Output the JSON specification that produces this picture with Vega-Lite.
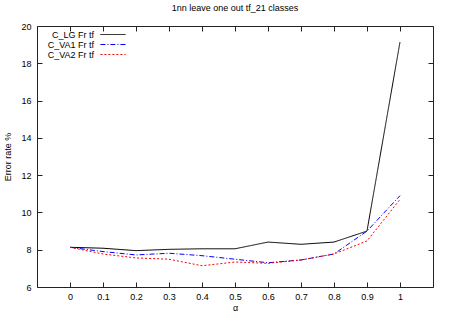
{
  "$schema": "https://vega.github.io/schema/vega-lite/v6.json",
  "width": 396,
  "height": 261,
  "autosize": "none",
  "padding": {"left": 37, "top": 26, "right": 17, "bottom": 28},
  "background": "white",
  "config": {
    "font": "Liberation Sans",
    "view": {"stroke": "#222", "strokeWidth": 1},
    "axis": {"grid": false, "domain": false, "tickColor": "#222", "labelColor": "#000", "labelFontSize": 9, "titleFontSize": 9, "titleFontWeight": "normal", "titleColor": "#000", "labelFont": "Liberation Sans", "titleFont": "Liberation Sans"}
  },
  "title": {"text": "1nn leave one out tf_21 classes", "fontSize": 9, "fontWeight": "normal", "font": "Liberation Sans", "offset": 9, "color": "#000"},
  "data": {"values": [
    {"alpha": 0.0, "series": "C_LG Fr tf", "rate": 8.13},
    {"alpha": 0.1, "series": "C_LG Fr tf", "rate": 8.08},
    {"alpha": 0.2, "series": "C_LG Fr tf", "rate": 7.95},
    {"alpha": 0.3, "series": "C_LG Fr tf", "rate": 8.02},
    {"alpha": 0.4, "series": "C_LG Fr tf", "rate": 8.05},
    {"alpha": 0.5, "series": "C_LG Fr tf", "rate": 8.05},
    {"alpha": 0.6, "series": "C_LG Fr tf", "rate": 8.41},
    {"alpha": 0.7, "series": "C_LG Fr tf", "rate": 8.29},
    {"alpha": 0.8, "series": "C_LG Fr tf", "rate": 8.41},
    {"alpha": 0.9, "series": "C_LG Fr tf", "rate": 9.0},
    {"alpha": 1.0, "series": "C_LG Fr tf", "rate": 19.14},
    {"alpha": 0.0, "series": "C_VA1 Fr tf", "rate": 8.13},
    {"alpha": 0.1, "series": "C_VA1 Fr tf", "rate": 7.9},
    {"alpha": 0.2, "series": "C_VA1 Fr tf", "rate": 7.72},
    {"alpha": 0.3, "series": "C_VA1 Fr tf", "rate": 7.81},
    {"alpha": 0.4, "series": "C_VA1 Fr tf", "rate": 7.68},
    {"alpha": 0.5, "series": "C_VA1 Fr tf", "rate": 7.49},
    {"alpha": 0.6, "series": "C_VA1 Fr tf", "rate": 7.3},
    {"alpha": 0.7, "series": "C_VA1 Fr tf", "rate": 7.45},
    {"alpha": 0.8, "series": "C_VA1 Fr tf", "rate": 7.77},
    {"alpha": 0.9, "series": "C_VA1 Fr tf", "rate": 9.0},
    {"alpha": 1.0, "series": "C_VA1 Fr tf", "rate": 10.9},
    {"alpha": 0.0, "series": "C_VA2 Fr tf", "rate": 8.13},
    {"alpha": 0.1, "series": "C_VA2 Fr tf", "rate": 7.77},
    {"alpha": 0.2, "series": "C_VA2 Fr tf", "rate": 7.56},
    {"alpha": 0.3, "series": "C_VA2 Fr tf", "rate": 7.49},
    {"alpha": 0.4, "series": "C_VA2 Fr tf", "rate": 7.14},
    {"alpha": 0.5, "series": "C_VA2 Fr tf", "rate": 7.34},
    {"alpha": 0.6, "series": "C_VA2 Fr tf", "rate": 7.27},
    {"alpha": 0.7, "series": "C_VA2 Fr tf", "rate": 7.45},
    {"alpha": 0.8, "series": "C_VA2 Fr tf", "rate": 7.77},
    {"alpha": 0.9, "series": "C_VA2 Fr tf", "rate": 8.47},
    {"alpha": 1.0, "series": "C_VA2 Fr tf", "rate": 10.7}
  ]},
  "layer": [
    {
      "mark": {"type": "line", "strokeWidth": 1, "clip": true},
      "encoding": {
        "x": {"field": "alpha", "type": "quantitative", "scale": {"domain": [-0.1, 1.1], "nice": false, "zero": false},
          "axis": {"values": [0, 0.1, 0.2, 0.3, 0.4, 0.5, 0.6, 0.7, 0.8, 0.9, 1], "format": "~g", "title": "α", "tickSize": -5, "labelPadding": 10, "titlePadding": 2}},
        "y": {"field": "rate", "type": "quantitative", "scale": {"domain": [6, 20], "nice": false, "zero": false},
          "axis": {"values": [6, 8, 10, 12, 14, 16, 18, 20], "title": "Error rate %", "tickSize": -5, "labelPadding": 11, "titlePadding": 8}},
        "color": {"field": "series", "type": "nominal",
          "scale": {"domain": ["C_LG Fr tf", "C_VA1 Fr tf", "C_VA2 Fr tf"], "range": ["#000000", "#0000ff", "#ff0000"]},
          "legend": {"orient": "none", "legendX": 71, "legendY": 3.5, "title": null, "symbolType": "M-2.8,0H2.8", "symbolSize": 81, "symbolStrokeWidth": 1, "symbolFillColor": "transparent", "labelAlign": "right", "labelOffset": -24, "labelFontSize": 9, "labelFont": "Liberation Sans", "labelColor": "#000", "rowPadding": 0, "padding": 0, "symbolOffset": 0, "labelLimit": 200}},
        "strokeDash": {"field": "series", "type": "nominal",
          "scale": {"domain": ["C_LG Fr tf", "C_VA1 Fr tf", "C_VA2 Fr tf"], "range": [[1, 0], [5, 2, 1, 2], [2, 2]]},
          "legend": null}
      }
    },
    {
      "mark": {"type": "line", "opacity": 0},
      "encoding": {
        "x": {"field": "alpha", "type": "quantitative", "scale": {"domain": [-0.1, 1.1], "nice": false, "zero": false},
          "axis": {"orient": "top", "values": [0, 0.1, 0.2, 0.3, 0.4, 0.5, 0.6, 0.7, 0.8, 0.9, 1], "labels": false, "title": null, "tickSize": -5}},
        "y": {"field": "rate", "type": "quantitative", "scale": {"domain": [6, 20], "nice": false, "zero": false},
          "axis": {"orient": "right", "values": [6, 8, 10, 12, 14, 16, 18, 20], "labels": false, "title": null, "tickSize": -5}},
        "detail": {"field": "series"}
      }
    }
  ],
  "resolve": {"axis": {"x": "independent", "y": "independent"}}
}
